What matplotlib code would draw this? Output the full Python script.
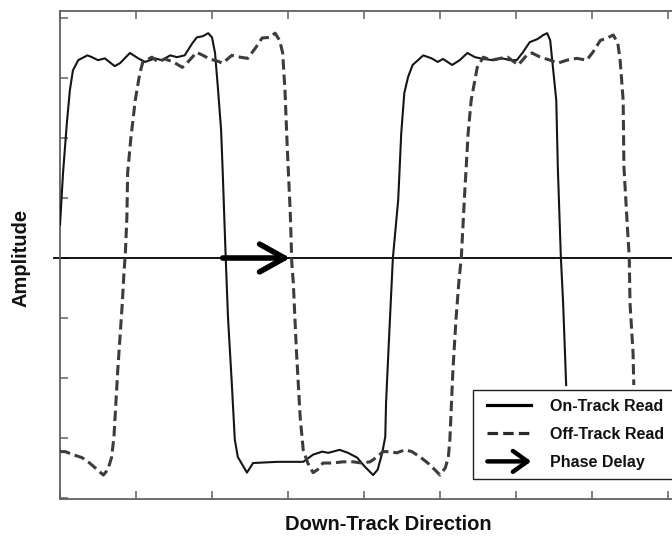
import matplotlib
matplotlib.use("Agg")
import matplotlib.pyplot as plt
from matplotlib.lines import Line2D
from matplotlib.patches import FancyArrowPatch
from matplotlib.legend_handler import HandlerBase
import numpy as np

plt.rcParams['font.family'] = ['Liberation Sans', 'DejaVu Sans']

# ---------------- data ----------------
on_x = [0.00, 0.04, 0.09, 0.13, 0.17, 0.24, 0.36, 0.42, 0.50, 0.59, 0.72, 0.79, 0.92, 1.03,
        1.12, 1.25, 1.34, 1.45, 1.54, 1.64, 1.74, 1.80, 1.88, 1.95, 2.00, 2.04, 2.08, 2.12,
        2.14, 2.18, 2.21, 2.26, 2.30, 2.34, 2.46, 2.54, 2.86, 3.20, 3.33, 3.45, 3.53, 3.68,
        3.79, 3.91, 4.01, 4.12, 4.18, 4.24, 4.28, 4.29, 4.33, 4.38, 4.45, 4.49, 4.53, 4.58,
        4.64, 4.78, 4.89, 4.97, 5.04, 5.16, 5.26, 5.36, 5.46, 5.57, 5.70, 5.82, 5.92, 6.01,
        6.09, 6.18, 6.28, 6.36, 6.41, 6.45, 6.49, 6.53, 6.55, 6.59, 6.62, 6.66]
on_y = [0.55, 1.42, 2.25, 2.80, 3.13, 3.30, 3.38, 3.35, 3.30, 3.33, 3.20, 3.25, 3.42, 3.33,
        3.27, 3.33, 3.30, 3.38, 3.35, 3.38, 3.58, 3.68, 3.70, 3.75, 3.68, 3.42, 2.80, 2.13,
        1.47, 0.02, -0.98, -2.08, -3.03, -3.32, -3.58, -3.42, -3.40, -3.40, -3.28, -3.23, -3.25, -3.20,
        -3.25, -3.33, -3.48, -3.62, -3.53, -3.25, -2.98, -2.42, -1.32, 0.00, 0.97, 2.08, 2.75, 3.02,
        3.22, 3.38, 3.33, 3.27, 3.32, 3.22, 3.30, 3.42, 3.35, 3.32, 3.30, 3.33, 3.30, 3.30,
        3.43, 3.60, 3.65, 3.72, 3.75, 3.63, 3.13, 2.63, 1.52, 0.02, -0.75, -2.12]

off_x = [0.00, 0.07, 0.17, 0.29, 0.39, 0.49, 0.57, 0.63, 0.68, 0.71, 0.76, 0.82, 0.84, 0.86,
         0.88, 0.89, 0.93, 0.99, 1.05, 1.09, 1.21, 1.29, 1.38, 1.49, 1.61, 1.67, 1.74, 1.80,
         1.88, 1.97, 2.08, 2.14, 2.26, 2.37, 2.47, 2.57, 2.66, 2.76, 2.83, 2.89, 2.93, 2.96,
         2.99, 3.03, 3.05, 3.07, 3.11, 3.16, 3.20, 3.26, 3.33, 3.39, 3.46, 3.59, 3.72, 3.86,
         3.97, 4.08, 4.17, 4.25, 4.34, 4.43, 4.54, 4.63, 4.74, 4.84, 4.93, 5.00, 5.07, 5.11,
         5.13, 5.17, 5.21, 5.25, 5.28, 5.32, 5.37, 5.41, 5.49, 5.57, 5.68, 5.79, 5.89, 6.03,
         6.14, 6.21, 6.32, 6.45, 6.55, 6.67, 6.80, 6.93, 7.01, 7.11, 7.20, 7.28, 7.34, 7.37,
         7.41, 7.42, 7.47, 7.49, 7.50, 7.54, 7.55]
off_y = [-3.23, -3.23, -3.28, -3.33, -3.42, -3.53, -3.62, -3.53, -3.32, -2.98, -1.87, -0.75, -0.28, 0.08,
         0.68, 1.42, 1.97, 2.63, 3.08, 3.27, 3.35, 3.27, 3.32, 3.27, 3.18, 3.25, 3.35, 3.43,
         3.38, 3.32, 3.28, 3.25, 3.38, 3.35, 3.33, 3.50, 3.67, 3.68, 3.75, 3.63, 3.42, 2.80,
         1.85, 0.75, -0.08, -0.42, -1.53, -2.65, -3.20, -3.42, -3.58, -3.53, -3.42, -3.42, -3.40, -3.40,
         -3.42, -3.40, -3.32, -3.23, -3.23, -3.25, -3.20, -3.23, -3.32, -3.42, -3.53, -3.62, -3.50, -3.32,
         -3.03, -1.87, -1.03, -0.37, 0.00, 0.97, 2.08, 2.63, 3.18, 3.35, 3.30, 3.33, 3.35, 3.22,
         3.38, 3.42, 3.35, 3.30, 3.25, 3.30, 3.33, 3.30, 3.43, 3.63, 3.67, 3.72, 3.58, 3.30,
         2.63, 1.52, 0.42, 0.02, -0.75, -1.58, -2.12]

phase_start = 2.14   # on-track zero crossing
phase_end = 3.03     # off-track zero crossing

x_ticks = [0, 1, 2, 3, 4, 5, 6, 7, 8]
y_ticks = [-4, -3, -2, -1, 0, 1, 2, 3, 4]
labels = ["On-Track Read", "Off-Track Read", "Phase Delay"]

# ---------------- figure ----------------
W, H, DPI = 672, 540, 100
fig = plt.figure(figsize=(W / DPI, H / DPI), dpi=DPI)
xmax = 8.5
ax = fig.add_axes([60 / W, (H - 499) / H, xmax * 76 / W, (499 - 11) / H])
ax.set_xlim(0, xmax)
ax.set_ylim(-4.02, 4.12)

spine_c = '#606060'
for s in ax.spines.values():
    s.set_color(spine_c)
    s.set_linewidth(1.3)
ax.set_xticks(x_ticks)
ax.set_yticks(y_ticks)
ax.tick_params(direction='in', length=6, width=1.1, color=spine_c,
               top=True, right=True, labelbottom=False, labelleft=False)

solid_c = '#151515'
dash_c = '#3c3c3c'
ax.plot(on_x, on_y, color=solid_c, lw=1.5, solid_joinstyle='round', zorder=3)
ax.plot(off_x, off_y, color=dash_c, lw=2.2, dashes=(3.4, 1.6), zorder=3)

ax.axhline(0, xmin=-0.01, xmax=1, color='black', lw=1.3, clip_on=False, zorder=2)

ax.annotate('', xy=(phase_end, 0), xytext=(phase_start, 0),
            arrowprops=dict(arrowstyle='->,head_length=0.9,head_width=0.5',
                            mutation_scale=20, lw=4.0, color='black',
                            shrinkA=0, shrinkB=0), zorder=4)


# ---------------- legend ----------------
class OffsetLineHandler(HandlerBase):
    def create_artists(self, legend, orig_handle, xdescent, ydescent, width, height,
                       fontsize, trans):
        y = height / 2 - ydescent
        x0 = -xdescent + 4
        ln = Line2D([x0, -xdescent + width], [y, y], color=orig_handle.get_color(),
                    lw=orig_handle.get_linewidth(), linestyle=orig_handle.get_linestyle(),
                    transform=trans)
        if orig_handle.get_linestyle() != '-':
            ln.set_dashes((3.3, 1.6))
        return [ln]


class ArrowHandler(HandlerBase):
    def create_artists(self, legend, orig_handle, xdescent, ydescent, width, height,
                       fontsize, trans):
        y = height / 2 - ydescent
        x0 = -xdescent + 4
        arr = FancyArrowPatch((x0, y), (-xdescent + width, y),
                              arrowstyle='->,head_length=0.7,head_width=0.5',
                              mutation_scale=15, lw=3.2, color='black',
                              shrinkA=0, shrinkB=0, transform=trans)
        return [arr]


class ArrowKey:
    pass


h_on = Line2D([], [], color='black', lw=2.3, linestyle='-')
h_off = Line2D([], [], color='#2a2a2a', lw=2.3, linestyle='--')
h_arr = ArrowKey()

leg = fig.legend([h_on, h_off, h_arr], labels,
                 handler_map={Line2D: OffsetLineHandler(), ArrowKey: ArrowHandler()},
                 loc='upper left', bbox_to_anchor=(473 / W, (H - 390) / H),
                 bbox_transform=fig.transFigure, borderaxespad=0,
                 prop=dict(size=11.5, weight='bold'), frameon=True, fancybox=False,
                 handlelength=3.1, handletextpad=1.2, borderpad=0.55, labelspacing=0.82)
leg.get_frame().set_edgecolor('#202020')
leg.get_frame().set_linewidth(1.0)
leg.get_frame().set_facecolor('white')
leg.get_frame().set_alpha(1)
for t in leg.get_texts():
    t.set_color('#111111')

# ---------------- axis labels ----------------
fig.text(388 / W, 1 - 525 / H, 'Down-Track Direction', ha='center', va='center',
         fontsize=14.5, fontweight='bold', color='#111111')
fig.text(21 / W, 1 - 258 / H, 'Amplitude', ha='center', va='center', rotation=90,
         fontsize=14.5, fontweight='bold', color='#111111')

fig.savefig('out.png', dpi=DPI)
